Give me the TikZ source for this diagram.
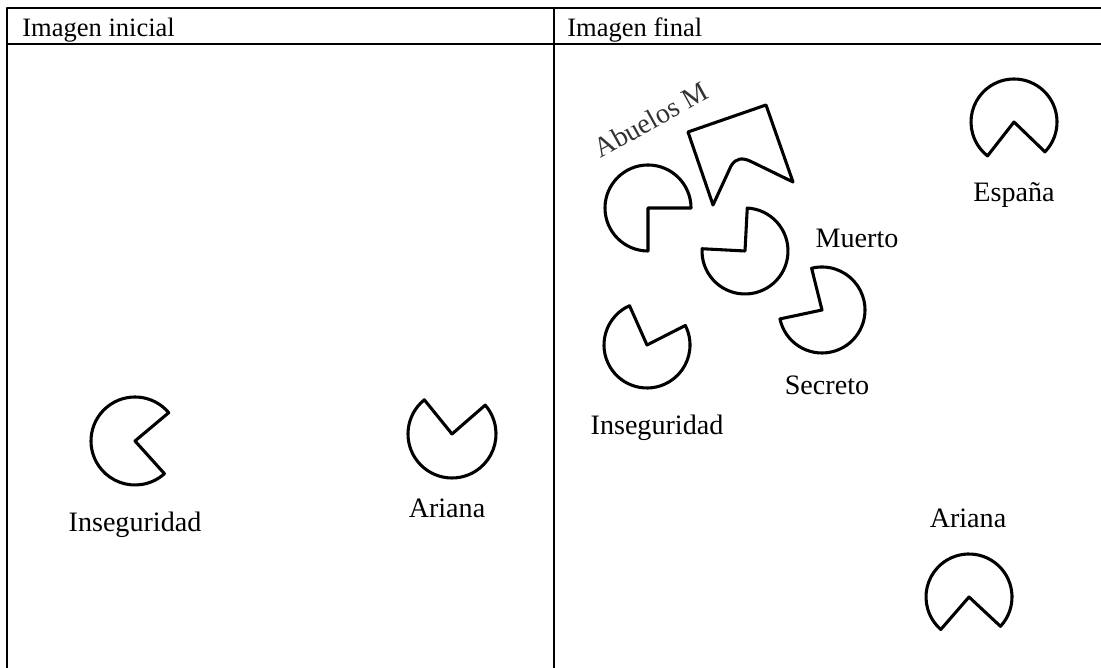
\documentclass[tikz,border=0pt]{standalone}
\usepackage{fontspec}
\setmainfont{Liberation Serif}
\usetikzlibrary{positioning}

% pac-man figure: centre, radius, arc start, arc end
\newcommand{\pacfig}[4]{%
  \draw[figline] (#1) -- ++(#3:#2) arc[start angle=#3, end angle=#4, radius=#2] -- cycle;}

\begin{document}
\begin{tikzpicture}[x=0.02cm,y=0.02cm,line cap=round,line join=round,
    figline/.style={line width=1.75pt},
    tabline/.style={line width=0.8pt},
    head/.style={font=\fontsize{15.1}{18}\selectfont,anchor=base west,inner sep=0pt},
    lbl/.style={font=\fontsize{16}{19}\selectfont,anchor=base,inner sep=0pt}]
  \useasboundingbox (0,0) rectangle (1101,668);

  % Table
  \draw[tabline] (7,0) -- (7,660) -- (1101,660);
  \draw[tabline] (7,624) -- (1101,624);
  \draw[tabline] (554,0) -- (554,660);
  \node[head] (hini) at (22,631) {Imagen inicial};
  \node[head] (hfin) at (567,631) {Imagen final};

  % Initial image
  \pacfig{135,227}{44}{40}{312}
  \node[lbl] (insL) at (135,136) {Inseguridad};
  \pacfig{452,234}{44}{129}{401}
  \node[lbl] (ariL) at (447,150) {Ariana};

  % Final image
  \node[font=\fontsize{16}{19}\selectfont,anchor=base west,inner sep=0pt,
        text=black!80,rotate=29] (abu) at (600,509) {Abuelos M};
  \pacfig{648,460}{43}{0}{270}
  \draw[figline] (688,536) -- (766,563) -- (793,486) -- (752,506)
    .. controls (742,511) and (736,510) .. (731,502) -- (713,463) -- cycle;
  \pacfig{745,417}{43}{177}{447}
  \node[lbl] (mue) at (857,420) {Muerto};
  \pacfig{822,358}{43}{192}{464}
  \node[lbl] (sec) at (827,273) {Secreto};
  \pacfig{647,323}{43}{114}{387}
  \node[lbl] (insR) at (657,233) {Inseguridad};
  \pacfig{1014,546}{43}{-44}{232}
  \node[lbl] (esp) at (1014,466) {España};
  \node[lbl] (ariR) at (968,140) {Ariana};
  \pacfig{969,71}{43}{-43}{229}
\end{tikzpicture}
\end{document}
